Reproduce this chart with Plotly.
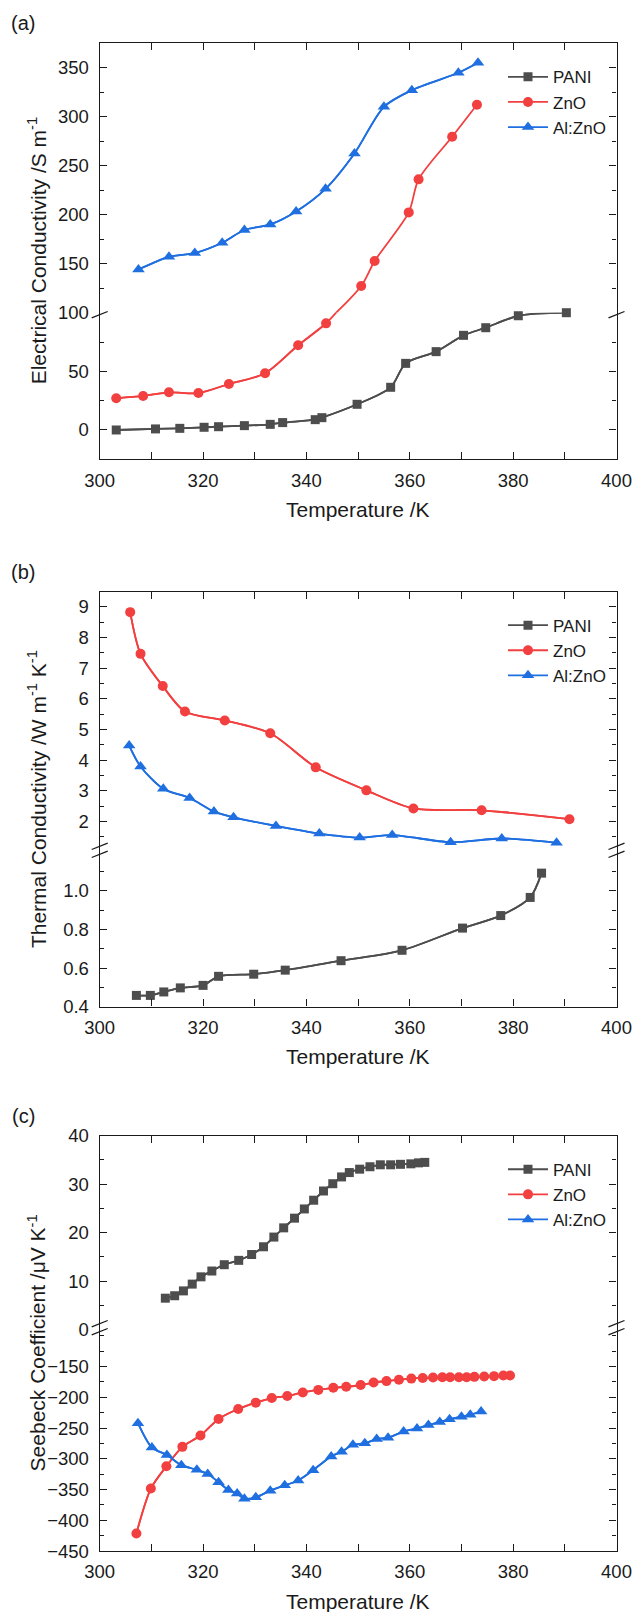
import plotly.graph_objects as go

# ---------------- data ----------------
# (a) electrical conductivity, S m^-1
T_sig_pani = [303.2, 310.8, 315.5, 320.2, 323.0, 328.0, 333.0, 335.4, 341.7, 343.0,
              349.8, 356.3, 359.2, 365.1, 370.4, 374.7, 381.0, 390.3]
sig_pani = [0.0, 0.9, 1.4, 2.3, 2.8, 3.7, 4.8, 6.3, 8.8, 10.5,
            21.9, 36.4, 56.8, 66.8, 80.7, 87.2, 97.4, 100.0]
T_sig_zno = [303.2, 308.4, 313.4, 319.1, 325.0, 332.0, 338.4, 343.8, 350.6, 353.2,
             359.8, 361.7, 368.2, 373.0]
sig_zno = [27.0, 29.0, 32.1, 31.5, 39.2, 48.3, 72.2, 90.9, 127.2, 152.7,
           202.4, 236.1, 279.6, 312.2]
T_sig_azo = [307.5, 313.4, 318.4, 323.7, 328.0, 333.0, 338.0, 343.7, 349.3, 355.0,
             360.4, 369.4, 373.2]
sig_azo = [144.2, 157.1, 160.9, 171.4, 184.4, 190.1, 203.4, 226.5, 262.6, 310.2,
           327.2, 344.9, 355.1]

# (b) thermal conductivity, W m^-1 K^-1
T_kap_pani = [307.1, 309.8, 312.4, 315.6, 320.0, 323.0, 329.8, 335.9, 346.7, 358.5,
              370.2, 377.6, 383.3, 385.5]
kap_pani = [0.458, 0.458, 0.476, 0.497, 0.510, 0.557, 0.568, 0.589, 0.638, 0.692,
            0.807, 0.872, 0.966, 1.092]
T_kap_zno = [305.9, 307.9, 312.2, 316.5, 324.2, 333.0, 341.8, 351.6, 360.7, 373.9, 390.9]
kap_zno = [8.83, 7.47, 6.42, 5.59, 5.30, 4.88, 3.77, 3.02, 2.43, 2.37, 2.08]
T_kap_azo = [305.7, 307.9, 312.3, 317.4, 322.1, 325.9, 334.1, 342.5, 350.3, 356.6,
             367.9, 377.8, 388.4]
kap_azo = [4.48, 3.80, 3.07, 2.77, 2.33, 2.14, 1.86, 1.61, 1.48, 1.56,
           1.33, 1.45, 1.31]

# (c) Seebeck coefficient, uV K^-1
T_s_pani = [312.7, 314.5, 316.2, 317.9, 319.6, 321.7, 324.1, 326.9, 329.4, 331.7,
            333.7, 335.6, 337.7, 339.6, 341.4, 343.3, 345.1, 346.8, 348.3, 350.3,
            352.3, 354.3, 356.3, 358.2, 360.2, 361.7, 362.9]
s_pani = [6.5, 7.0, 8.0, 9.4, 10.9, 12.1, 13.4, 14.3, 15.5, 17.1,
          19.1, 21.0, 23.0, 24.9, 26.7, 28.6, 30.1, 31.5, 32.4, 33.1,
          33.6, 34.0, 34.0, 34.1, 34.2, 34.4, 34.5]
T_s_zno = [307.1, 309.9, 312.9, 316.0, 319.5, 323.0, 326.8, 330.2, 333.3, 336.3,
           339.3, 342.3, 345.2, 347.7, 350.5, 353.0, 355.5, 357.9, 360.3, 362.5,
           364.5, 366.3, 367.8, 369.5, 371.0, 372.5, 374.4, 376.3, 378.1, 379.4]
s_zno = [-421.3, -348.3, -312.1, -280.5, -262.1, -235.1, -219.0, -208.6, -201.1, -197.7,
         -192.0, -187.9, -184.5, -182.8, -179.9, -175.9, -173.6, -171.3, -169.5, -168.4,
         -167.8, -167.2, -167.2, -167.2, -167.2, -166.7, -166.1, -165.5, -164.4, -164.4]
T_s_azo = [307.4, 310.1, 313.0, 315.8, 318.8, 320.9, 323.0, 324.9, 326.6, 328.0,
           330.2, 333.0, 335.8, 338.4, 341.3, 344.8, 346.8, 349.0, 351.3, 353.6,
           355.8, 358.8, 361.4, 363.6, 365.8, 367.7, 370.0, 371.7, 373.8]
s_azo = [-242.0, -281.6, -293.7, -310.3, -317.8, -324.7, -337.9, -350.6, -356.3, -364.9,
         -362.6, -351.7, -343.1, -335.1, -318.4, -296.0, -288.5, -277.0, -274.7, -267.8,
         -265.5, -255.7, -250.6, -244.8, -240.2, -235.6, -231.6, -228.2, -223.0]

series_names = ["PANI", "ZnO", "Al:ZnO"]
panel_labels = ["(a)", "(b)", "(c)"]
x_title = "Temperature /K"
y_titles = ["Electrical Conductivity /S m<sup>-1</sup>",
            "Thermal Conductivity /W m<sup>-1</sup> K<sup>-1</sup>",
            "Seebeck Coefficient /\u03bcV K<sup>-1</sup>"]

# broken y axes: (lower range, upper range), labelled ticks for each segment
y_ranges = [([-25, 100], [100, 375]),
            ([0.4, 1.2], [1.0, 9.5]),
            ([-450, -90], [0, 40])]
y_ticks_lower = [[0, 50, 100], [0.4, 0.6, 0.8, 1.0], [-450, -400, -350, -300, -250, -200, -150]]
y_ticks_upper = [[150, 200, 250, 300, 350], [2, 3, 4, 5, 6, 7, 8, 9], [0, 10, 20, 30, 40]]
y_minor = [(25, 25), (0.1, 0.5), (25, 5)]
y_fmt = ["", ".1f", ""]
x_ticks = [300, 320, 340, 360, 380, 400]

# ---------------- styling ----------------
W, H = 633, 1612
FONT = "Arial, 'Liberation Sans', sans-serif"
INK = "#1a1a1a"
colors = ["#4d4d4d", "#f23f3f", "#1f6fe0"]
symbols = ["square", "circle", "triangle-up"]
msizes = [9, 10, 11]

X_LEFT, X_RIGHT = 99.7, 616.5
# pixel rows of each panel: top of frame, axis break, bottom of frame
frames = [(43.3, 312.7, 459.3), (591.6, 852.3, 1006.6), (1135.7, 1329.7, 1551.1)]
# which segment each series lives on (PANI, ZnO, Al:ZnO)
placement = [("lower", "both", "upper"), ("lower", "upper", "upper"), ("upper", "lower", "lower")]
break_marks = [1, 2, 2]


def px(x):
    return x / W


def py(y):
    return 1 - y / H


panel_data = [
    [(T_sig_pani, sig_pani), (T_sig_zno, sig_zno), (T_sig_azo, sig_azo)],
    [(T_kap_pani, kap_pani), (T_kap_zno, kap_zno), (T_kap_azo, kap_azo)],
    [(T_s_pani, s_pani), (T_s_zno, s_zno), (T_s_azo, s_azo)],
]

fig = go.Figure()
layout = dict(
    width=W, height=H, margin=dict(l=0, r=0, t=0, b=0, pad=0),
    paper_bgcolor="white", plot_bgcolor="white",
    font=dict(family=FONT, color=INK), showlegend=True,
)
annotations = []
shapes = []

for p in range(3):
    top, brk, bot = frames[p]
    lo_i, up_i = 2 * p + 1, 2 * p + 2
    lo_x, up_x = f"x{lo_i}", f"x{up_i}"
    lo_y, up_y = f"y{lo_i}", f"y{up_i}"
    xdom = [px(X_LEFT), px(X_RIGHT)]
    legend_key = "legend" if p == 0 else f"legend{p + 1}"

    tick_common = dict(ticks="inside", ticklen=7, tickwidth=1.3, tickcolor=INK,
                       showline=True, linecolor=INK, linewidth=1.3,
                       showgrid=False, zeroline=False, automargin=False,
                       tickfont=dict(family=FONT, size=18.5, color=INK))
    x_minor = dict(ticks="inside", ticklen=7, tickwidth=1.3, tickcolor=INK,
                   tickmode="linear", tick0=300, dtick=10, showgrid=False)

    layout[f"xaxis{lo_i}"] = dict(
        domain=xdom, anchor=lo_y, range=[300, 400], side="bottom", mirror=False,
        tickmode="array", tickvals=x_ticks, ticklabelstandoff=4,
        minor=x_minor, **tick_common)
    layout[f"xaxis{up_i}"] = dict(
        domain=xdom, anchor=up_y, range=[300, 400], side="top", mirror=False,
        matches=lo_x, showticklabels=False, tickmode="array", tickvals=x_ticks,
        minor=x_minor, **tick_common)

    lo_rng, up_rng = y_ranges[p]
    lo_minor, up_minor = y_minor[p]
    layout[f"yaxis{lo_i}"] = dict(
        domain=[py(bot), py(brk)], anchor=lo_x, range=lo_rng, mirror="allticks",
        tickmode="array", tickvals=y_ticks_lower[p], tickformat=y_fmt[p],
        ticklabelstandoff=6,
        minor=dict(ticks="inside", ticklen=4, tickwidth=1.3, tickcolor=INK,
                   tickmode="linear", tick0=0, dtick=lo_minor, showgrid=False),
        **tick_common)
    layout[f"yaxis{up_i}"] = dict(
        domain=[py(brk), py(top)], anchor=up_x, range=up_rng, mirror="allticks",
        tickmode="array", tickvals=y_ticks_upper[p], tickformat="",
        ticklabelstandoff=6,
        minor=dict(ticks="inside", ticklen=4, tickwidth=1.3, tickcolor=INK,
                   tickmode="linear", tick0=0, dtick=up_minor, showgrid=False),
        **tick_common)

    # series: the curve is drawn (clipped) in every segment it reaches,
    # each marker only in the segment whose range holds its value
    for s in range(3):
        xs, ys = panel_data[p][s]
        where = placement[p][s]
        segs = []
        if where in ("lower", "both"):
            segs.append((lo_x, lo_y, lo_rng))
        if where in ("upper", "both"):
            segs.append((up_x, up_y, up_rng))
        group = f"{p}-{s}"
        line_style = dict(color=colors[s], width=1.8, shape="spline", smoothing=0.8)
        for k, (xa, ya, rng) in enumerate(segs):
            # full curve, clipped to this segment
            fig.add_trace(go.Scatter(
                x=xs, y=ys, xaxis=xa, yaxis=ya, mode="lines",
                name=series_names[s], legendgroup=group, showlegend=False,
                line=line_style, cliponaxis=True, hoverinfo="skip",
            ))
            if where == "both":
                keep = [i for i, v in enumerate(ys)
                        if (v <= rng[1] if ya == lo_y else v > rng[0])]
            else:
                keep = list(range(len(ys)))
            # symbols (first one also provides the legend key with its line)
            fig.add_trace(go.Scatter(
                x=[xs[i] for i in keep], y=[ys[i] for i in keep],
                xaxis=xa, yaxis=ya,
                mode="lines+markers" if k == 0 else "markers",
                name=series_names[s], legend=legend_key, legendgroup=group,
                showlegend=(k == 0), line=line_style,
                marker=dict(symbol=symbols[s], size=msizes[s], color=colors[s],
                            line=dict(width=0)),
                cliponaxis=False,
            ))

    layout[legend_key] = dict(
        x=px(503), xanchor="left", y=py(top + 16), yanchor="top",
        bgcolor="rgba(0,0,0,0)", borderwidth=0, itemwidth=40,
        font=dict(family=FONT, size=17, color=INK), tracegroupgap=0,
    )

    # axis titles and panel tag
    annotations.append(dict(text=x_title, x=px((X_LEFT + X_RIGHT) / 2),
                            y=py(bot + 50), xref="paper", yref="paper",
                            showarrow=False, font=dict(size=21, family=FONT, color=INK),
                            xanchor="center", yanchor="middle"))
    annotations.append(dict(text=y_titles[p], x=px(37), y=py((top + bot) / 2),
                            xref="paper", yref="paper", textangle=-90,
                            showarrow=False, font=dict(size=21, family=FONT, color=INK),
                            xanchor="center", yanchor="middle"))
    annotations.append(dict(text=panel_labels[p], x=px(23), y=py(top - 20),
                            xref="paper", yref="paper", showarrow=False,
                            font=dict(size=20, family=FONT, color=INK),
                            xanchor="center", yanchor="middle"))

    # break symbols on both vertical edges
    offsets = [2] if break_marks[p] == 1 else [-6, 2]
    for xe in (X_LEFT, X_RIGHT):
        for off in offsets:
            yc = brk + off
            shapes.append(dict(type="line", xref="paper", yref="paper",
                               x0=px(xe - 8), y0=py(yc + 3.2),
                               x1=px(xe + 8), y1=py(yc - 3.2),
                               line=dict(color=INK, width=1.3)))

layout["annotations"] = annotations
layout["shapes"] = shapes
fig.update_layout(**layout)
fig.write_html("out.html")
